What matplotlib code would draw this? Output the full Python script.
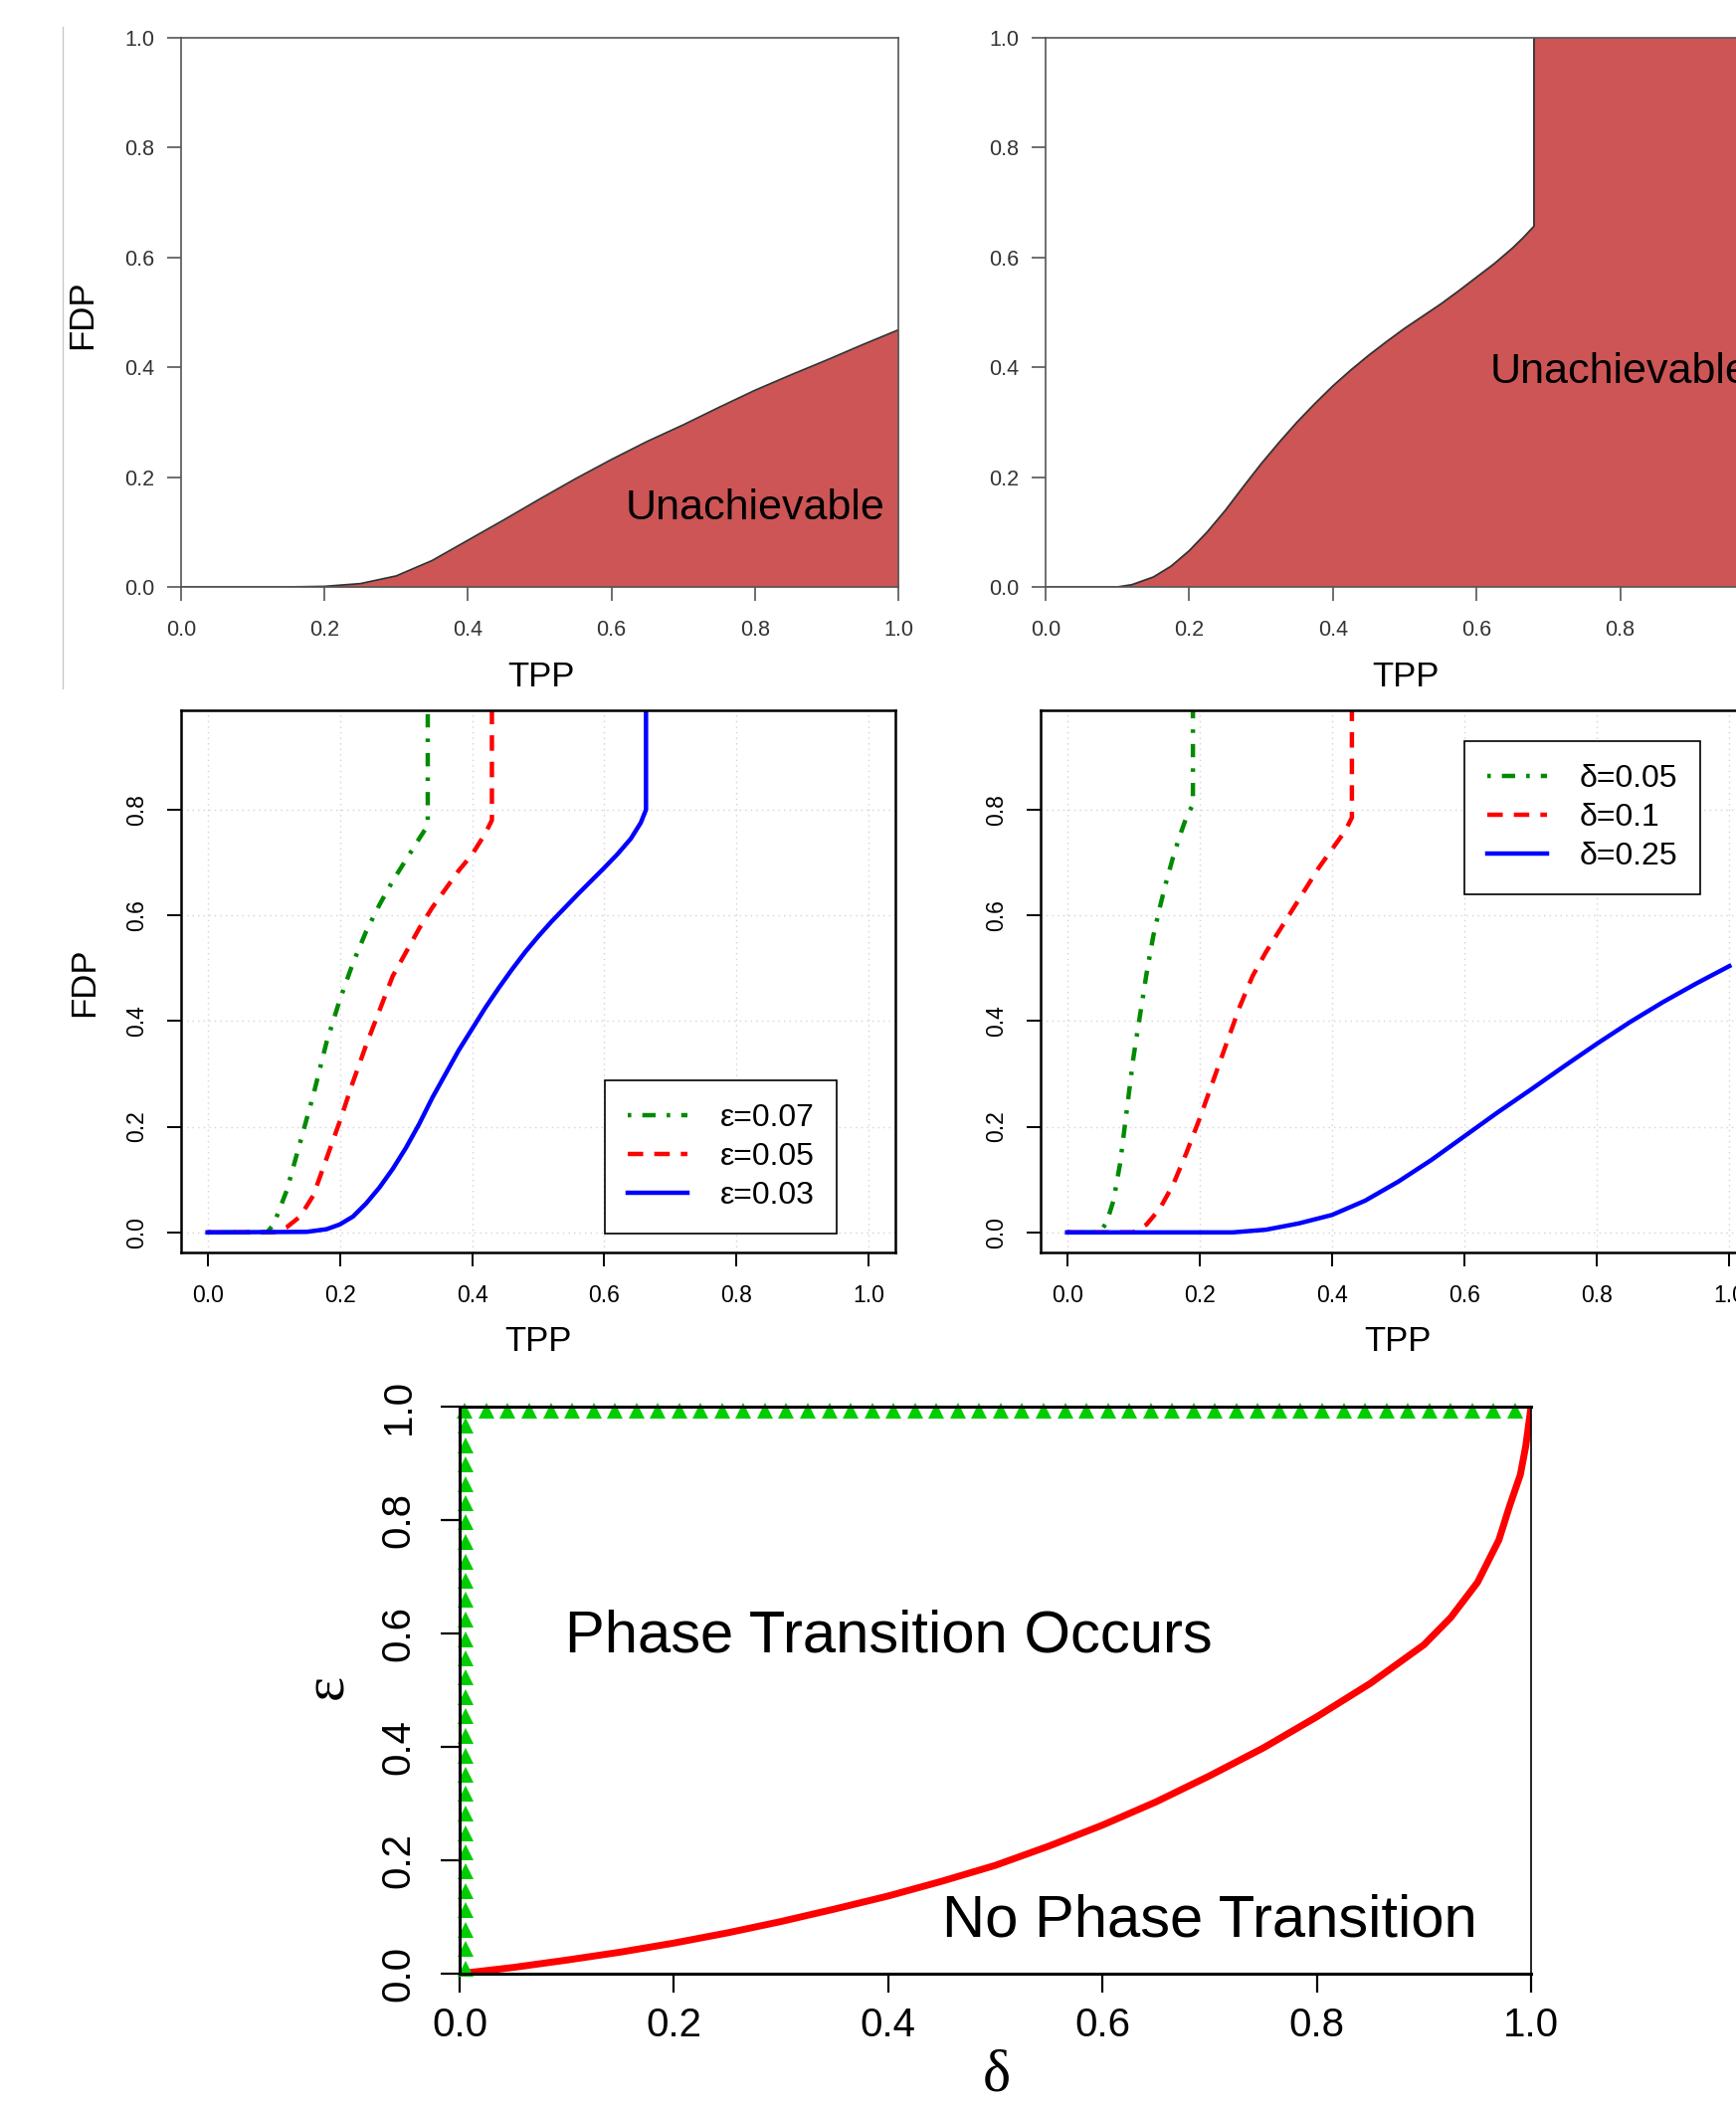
import matplotlib
matplotlib.use("Agg")
import matplotlib.pyplot as plt
from matplotlib.lines import Line2D

plt.rcParams['font.family'] = ['Liberation Sans', 'DejaVu Sans']

# ---- data ----
# top left: boundary of the unachievable region
tpp_a = [0.0, 0.15, 0.2, 0.25, 0.3, 0.35, 0.4, 0.45, 0.5, 0.55, 0.6, 0.65,
         0.7, 0.75, 0.8, 0.85, 0.9, 0.95, 1.0]
fdp_a = [0.0, 0.0, 0.001, 0.006, 0.020, 0.048, 0.085, 0.122, 0.160, 0.197,
         0.232, 0.265, 0.295, 0.327, 0.358, 0.386, 0.413, 0.441, 0.468]

# top right
tpp_b = [0.0, 0.1, 0.12, 0.15, 0.175, 0.2, 0.225, 0.25, 0.275, 0.3, 0.325,
         0.35, 0.375, 0.4, 0.425, 0.45, 0.475, 0.5, 0.525, 0.55, 0.575, 0.6,
         0.625, 0.65, 0.665, 0.68]
fdp_b = [0.0, 0.0, 0.004, 0.018, 0.038, 0.066, 0.100, 0.139, 0.182, 0.224,
         0.263, 0.300, 0.334, 0.366, 0.395, 0.422, 0.447, 0.471, 0.493, 0.515,
         0.539, 0.564, 0.589, 0.617, 0.636, 0.657]
tpp_b_max = 0.68

# middle left: epsilon curves
eps_labels = ["ε=0.07", "ε=0.05", "ε=0.03"]
tpp_e07 = [0.0, 0.09, 0.10, 0.12, 0.14, 0.16, 0.18, 0.20, 0.22, 0.24, 0.26,
           0.28, 0.30, 0.32, 0.333, 0.333]
fdp_e07 = [0.0, 0.0, 0.015, 0.08, 0.17, 0.26, 0.36, 0.44, 0.51, 0.57, 0.62,
           0.665, 0.705, 0.745, 0.77, 1.0]
tpp_e05 = [0.0, 0.10, 0.12, 0.14, 0.16, 0.18, 0.20, 0.22, 0.24, 0.26, 0.28,
           0.30, 0.32, 0.34, 0.36, 0.38, 0.40, 0.42, 0.43, 0.43]
fdp_e05 = [0.0, 0.0, 0.01, 0.03, 0.07, 0.14, 0.21, 0.285, 0.355, 0.42, 0.485,
           0.53, 0.575, 0.615, 0.65, 0.685, 0.715, 0.755, 0.78, 1.0]
tpp_e03 = [0.0, 0.15, 0.18, 0.20, 0.22, 0.24, 0.26, 0.28, 0.30, 0.32, 0.34,
           0.36, 0.38, 0.40, 0.42, 0.44, 0.46, 0.48, 0.50, 0.52, 0.54, 0.56,
           0.58, 0.60, 0.62, 0.64, 0.655, 0.663, 0.663]
fdp_e03 = [0.0, 0.001, 0.006, 0.015, 0.03, 0.055, 0.085, 0.12, 0.16, 0.205,
           0.255, 0.30, 0.345, 0.385, 0.425, 0.462, 0.497, 0.530, 0.560, 0.588,
           0.614, 0.640, 0.665, 0.690, 0.716, 0.745, 0.775, 0.80, 1.0]

# middle right: delta curves
delta_labels = ["δ=0.05", "δ=0.1", "δ=0.25"]
tpp_d05 = [0.0, 0.05, 0.06, 0.07, 0.08, 0.09, 0.10, 0.11, 0.12, 0.13, 0.14,
           0.15, 0.16, 0.17, 0.18, 0.19, 0.19]
fdp_d05 = [0.0, 0.0, 0.02, 0.06, 0.13, 0.23, 0.33, 0.41, 0.49, 0.56, 0.615,
           0.665, 0.71, 0.75, 0.785, 0.81, 1.0]
tpp_d10 = [0.0, 0.10, 0.12, 0.14, 0.16, 0.18, 0.20, 0.22, 0.24, 0.26, 0.28,
           0.30, 0.32, 0.34, 0.36, 0.38, 0.40, 0.42, 0.43, 0.43]
fdp_d10 = [0.0, 0.0, 0.015, 0.045, 0.09, 0.15, 0.215, 0.285, 0.355, 0.425,
           0.485, 0.53, 0.57, 0.61, 0.65, 0.69, 0.725, 0.76, 0.785, 1.0]
tpp_d25 = [0.0, 0.25, 0.3, 0.35, 0.4, 0.45, 0.5, 0.55, 0.6, 0.65, 0.7, 0.75,
           0.8, 0.85, 0.9, 0.95, 1.0]
fdp_d25 = [0.0, 0.0, 0.005, 0.017, 0.033, 0.060, 0.096, 0.137, 0.182, 0.227,
           0.270, 0.314, 0.357, 0.398, 0.436, 0.471, 0.504]

# bottom: phase transition boundary
delta_pt = [0.0, 0.05, 0.1, 0.15, 0.2, 0.25, 0.3, 0.35, 0.4, 0.45, 0.5, 0.55,
            0.6, 0.65, 0.7, 0.75, 0.8, 0.85, 0.9, 0.925, 0.95, 0.97, 0.98,
            0.99, 0.995, 1.0]
eps_pt = [0.0, 0.011, 0.024, 0.038, 0.054, 0.072, 0.092, 0.114, 0.137, 0.163,
          0.191, 0.225, 0.262, 0.303, 0.349, 0.398, 0.453, 0.512, 0.580, 0.628,
          0.690, 0.765, 0.825, 0.88, 0.93, 1.0]
# triangle markers along the left and top edges
eps_left = [0.009, 0.043, 0.077, 0.112, 0.146, 0.180, 0.214, 0.248, 0.283,
            0.317, 0.351, 0.385, 0.419, 0.454, 0.488, 0.522, 0.556, 0.590,
            0.625, 0.659, 0.693, 0.727, 0.761, 0.796, 0.830, 0.864, 0.898,
            0.932, 0.967]
delta_left = [0.006] * len(eps_left)
delta_top = [0.005, 0.025, 0.045, 0.065, 0.085, 0.105, 0.125, 0.145, 0.165,
             0.185, 0.205, 0.225, 0.245, 0.265, 0.285, 0.305, 0.325, 0.345,
             0.365, 0.385, 0.405, 0.425, 0.445, 0.465, 0.485, 0.505, 0.525,
             0.545, 0.565, 0.585, 0.605, 0.625, 0.645, 0.665, 0.685, 0.705,
             0.725, 0.745, 0.765, 0.785, 0.805, 0.825, 0.845, 0.865, 0.885,
             0.905, 0.925, 0.945, 0.965, 0.985]
eps_top = [0.993] * len(delta_top)

ticks5 = [0.0, 0.2, 0.4, 0.6, 0.8, 1.0]
ticks4 = [0.0, 0.2, 0.4, 0.6, 0.8]

# ---- layout ----
W, H = 1745, 2116
fig = plt.figure(figsize=(W / 100, H / 100), dpi=100)


def box(x0, y0, x1, y1):
    return [x0 / W, 1 - y1 / H, (x1 - x0) / W, (y1 - y0) / H]


def label(x, y, s, **kw):
    fig.text(x / W, 1 - y / H, s, ha="center", va="center", **kw)


fill_col = "#CD5555"
gray = "#555555"

# thin divider line at the far left
fig.add_artist(Line2D([63 / W, 63 / W], [1 - 27 / H, 1 - 692 / H],
                      color="#c8c8c8", lw=1.0))


def style_top(ax):
    ax.set_xlim(0, 1)
    ax.set_ylim(0, 1)
    for s in ax.spines.values():
        s.set_color(gray)
        s.set_linewidth(1.2)
    ax.set_xticks(ticks5)
    ax.set_yticks(ticks5)
    ax.set_xticklabels(["%.1f" % t for t in ticks5])
    ax.set_yticklabels(["%.1f" % t for t in ticks5])
    ax.tick_params(axis="both", direction="out", length=10, width=1.2,
                   color=gray, labelcolor="#333333", labelsize=15.5)
    ax.tick_params(axis="x", pad=14)
    ax.tick_params(axis="y", pad=9)


# top left
axA = fig.add_axes(box(182, 38, 903, 590))
axA.fill_between(tpp_a, fdp_a, 0, color=fill_col, lw=0)
axA.plot(tpp_a, fdp_a, color="#333333", lw=1.3)
style_top(axA)
axA.text(0.62, 0.123, "Unachievable", fontsize=31, ha="left", va="baseline")
label(544, 680, "TPP", fontsize=25)
label(83, 316, "FDP", fontsize=25, rotation=90)

# top right
axB = fig.add_axes(box(1051, 38, 1773, 590))
axB.fill(tpp_b + [tpp_b_max, 1.0, 1.0], fdp_b + [1.0, 1.0, 0.0],
         color=fill_col, lw=0)
axB.plot(tpp_b + [tpp_b_max], fdp_b + [1.0], color="#333333", lw=1.3)
style_top(axB)
axB.text(0.619, 0.371, "Unachievable", fontsize=31, ha="left", va="baseline")
label(1413, 680, "TPP", fontsize=25)

# middle panels
green, red, blue = "#008B00", "#FF0000", "#0000FF"
dotdash = (0, (0.8, 2.5, 3.0, 2.5))
dashed = (0, (3.5, 2.5))
lw_c = 3.2


def style_mid(ax):
    ax.set_xlim(-0.04, 1.04)
    ax.set_ylim(-0.038, 0.988)
    ax.set_xticks(ticks5)
    ax.set_yticks(ticks4)
    ax.set_xticklabels(["%.1f" % t for t in ticks5])
    ax.set_yticklabels(["%.1f" % t for t in ticks4])
    ax.grid(True, color="#d3d3d3", linestyle=(0, (1, 3)), lw=1.0)
    ax.set_axisbelow(True)
    for s in ax.spines.values():
        s.set_linewidth(1.8)
    ax.tick_params(axis="both", direction="out", length=10, width=1.4,
                   labelsize=16.5)
    ax.tick_params(axis="x", pad=13)
    ax.tick_params(axis="y", pad=14, labelrotation=90)
    for t in ax.get_yticklabels():
        t.set_va("center")


def style_legend(leg):
    fr = leg.get_frame()
    fr.set_edgecolor("black")
    fr.set_linewidth(1.2)


axC = fig.add_axes(box(182, 714, 900, 1259))
axC.plot(tpp_e07, fdp_e07, color=green, lw=lw_c, ls=dotdash, label=eps_labels[0])
axC.plot(tpp_e05, fdp_e05, color=red, lw=lw_c, ls=dashed, label=eps_labels[1])
axC.plot(tpp_e03, fdp_e03, color=blue, lw=lw_c, label=eps_labels[2])
style_mid(axC)
legC = axC.legend(loc="lower left", bbox_to_anchor=(0.593, 0.035), fontsize=23,
                  frameon=True, fancybox=False, framealpha=1, borderpad=0.72,
                  labelspacing=0.28, handlelength=1.9, handletextpad=1.0,
                  borderaxespad=0)
style_legend(legC)
label(541, 1348, "TPP", fontsize=25)
label(85, 987, "FDP", fontsize=25, rotation=90)

axD = fig.add_axes(box(1046, 714, 1765, 1259))
axD.plot(tpp_d05, fdp_d05, color=green, lw=lw_c, ls=dotdash, label=delta_labels[0])
axD.plot(tpp_d10, fdp_d10, color=red, lw=lw_c, ls=dashed, label=delta_labels[1])
axD.plot(tpp_d25, fdp_d25, color=blue, lw=lw_c, label=delta_labels[2])
style_mid(axD)
legD = axD.legend(loc="upper left", bbox_to_anchor=(0.592, 0.943), fontsize=23,
                  frameon=True, fancybox=False, framealpha=1, borderpad=0.72,
                  labelspacing=0.28, handlelength=1.9, handletextpad=1.0,
                  borderaxespad=0)
style_legend(legD)
label(1405, 1348, "TPP", fontsize=25)

# bottom panel
axE = fig.add_axes(box(462, 1414, 1539, 1984))
axE.plot(delta_pt, eps_pt, color=red, lw=5)
axE.plot(delta_left, eps_left, "^", color="#00CD00", ms=11, mew=0, clip_on=False)
axE.plot(delta_top, eps_top, "^", color="#00CD00", ms=11, mew=0, clip_on=False)
axE.set_xlim(0, 1)
axE.set_ylim(0, 1)
axE.set_xticks(ticks5)
axE.set_yticks(ticks5)
axE.set_xticklabels(["%.1f" % t for t in ticks5])
axE.set_yticklabels(["%.1f" % t for t in ticks5])
for name, s in axE.spines.items():
    s.set_linewidth(1.2 if name == "right" else 2.2)
axE.tick_params(axis="both", direction="out", length=13.5, width=1.6,
                labelsize=29)
axE.tick_params(axis="x", pad=10)
axE.tick_params(axis="y", pad=17, labelrotation=90)
for t in axE.get_yticklabels():
    t.set_va("center")
axE.text(0.098, 0.567, "Phase Transition Occurs", fontsize=43,
         ha="left", va="baseline")
axE.text(0.450, 0.065, "No Phase Transition", fontsize=43,
         ha="left", va="baseline")
label(1002, 2088, "δ", fontsize=43, family=["Liberation Serif", "DejaVu Serif"])
label(330, 1695, "ε", fontsize=43, rotation=90,
      family=["Liberation Serif", "DejaVu Serif"])

fig.savefig("out.png", dpi=100)
